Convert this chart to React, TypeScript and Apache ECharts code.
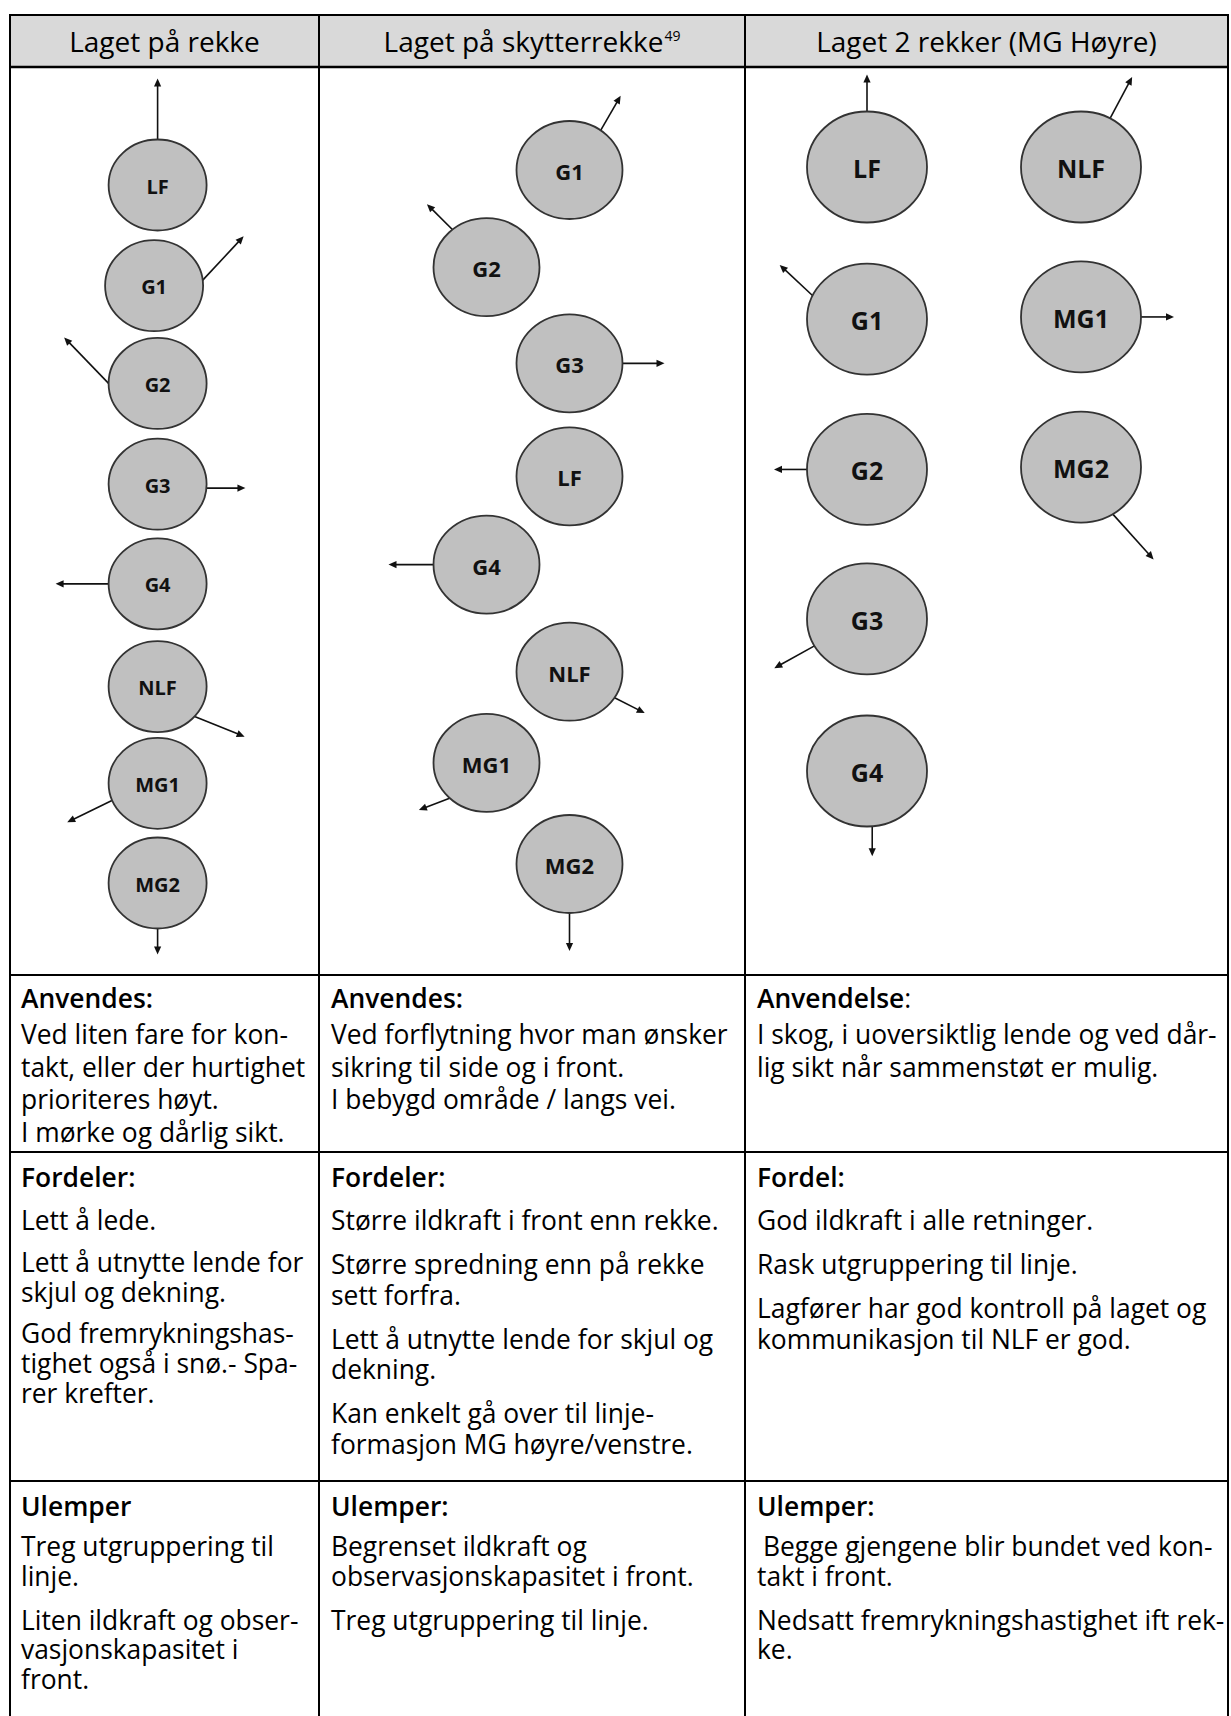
import React, { useEffect, useRef } from "react";
import * as echarts from "echarts";

// ---------- DATA ----------
const headers = ["Laget på rekke", "Laget på skytterrekke", "Laget 2 rekker (MG Høyre)"];
const headerNote = "49";

// Formation 1: Laget på rekke (lane, depth slot, arrow attach angle on circle, arrow direction, arrow length)
const f1Names = ["LF", "G1", "G2", "G3", "G4", "NLF", "MG1", "MG2"];
const f1Lane = [0, -0.035, 0, 0, 0, 0, 0, 0];
const f1Depth = [0, 1.01, 1.99, 3, 4, 5.03, 6, 7];
const f1ArrowFrom = [90, 7, 180, -5, 180, -41, 202, 270];
const f1ArrowDir = [90, 47, 134, 0, 180, -22, 206, 270];
const f1ArrowLen = [61, 60, 64, 39, 53, 54, 50, 26];

// Formation 2: Laget på skytterrekke
const f2Names = ["G1", "G2", "G3", "LF", "G4", "NLF", "MG1", "MG2"];
const f2Lane = [1, 0, 1, 1, 0, 1, 0, 1];
const f2Depth = [0, 0.98, 1.95, 3.09, 3.98, 5.06, 5.98, 7];
const f2ArrowFrom = [54, 130, 0, 0, 180, -32, 226, 270];
const f2ArrowDir = [60, 135, 0, 0, 180, -27, 201, 270];
const f2ArrowLen = [40, 36, 42, 0, 45, 34, 33, 38];

// Formation 3: Laget 2 rekker (MG Høyre)
const f3Names = ["LF", "NLF", "G1", "MG1", "G2", "MG2", "G3", "G4"];
const f3Lane = [0, 1, 0, 1, 0, 1, 0, 0];
const f3Depth = [0, 0, 1.007, 0.993, 2.003, 1.987, 2.993, 4];
const f3ArrowFrom = [90, 61, 155, 0, 180, -58, 209, 275];
const f3ArrowDir = [90, 62, 137, 0, 180, -48, 209, 270];
const f3ArrowLen = [37, 47, 45, 33, 33, 61, 46, 30];

const usageHead = ["Anvendes:", "Anvendes:", "Anvendelse"];
const usageText = [
  ["Ved liten fare for kon-", "takt, eller der hurtighet", "prioriteres høyt.", "I mørke og dårlig sikt."],
  ["Ved forflytning hvor man ønsker", "sikring til side og i front.", "I bebygd område / langs vei."],
  ["I skog, i uoversiktlig lende og ved dår-", "lig sikt når sammenstøt er mulig."],
];
const prosHead = ["Fordeler:", "Fordeler:", "Fordel:"];
const prosText = [
  [["Lett å lede."], ["Lett å utnytte lende for", "skjul og dekning."], ["God fremrykningshas-", "tighet også i snø.- Spa-", "rer krefter."]],
  [
    ["Større ildkraft i front enn rekke."],
    ["Større spredning enn på rekke", "sett forfra."],
    ["Lett å utnytte lende for skjul og", "dekning."],
    ["Kan enkelt gå over til linje-", "formasjon MG høyre/venstre."],
  ],
  [["God ildkraft i alle retninger."], ["Rask utgruppering til linje."], ["Lagfører har god kontroll på laget og", "kommunikasjon til NLF er god."]],
];
const consHead = ["Ulemper", "Ulemper:", "Ulemper:"];
const consText = [
  [["Treg utgruppering til", "linje."], ["Liten ildkraft og obser-", "vasjonskapasitet i", "front."]],
  [["Begrenset ildkraft og", "observasjonskapasitet i front."], ["Treg utgruppering til linje."]],
  [["Begge gjengene blir bundet ved kon-", "takt i front."], ["Nedsatt fremrykningshastighet ift rek-", "ke."]],
];

// ---------- LAYOUT ----------
const FONT = '"Open Sans", "Noto Sans", sans-serif';
const TABLE_L = 10;
const TABLE_R = 1228;
const COL_X = [TABLE_L, 319, 745, TABLE_R];
const ROW_Y = { top: 15, head: 67, diag: 975, usage: 1152, pros: 1481, bottom: 1716 };
const TEXT_X = [21, 331, 757];
const BODY = 26.4;
const HEAD = 28;

const formations = [
  { names: f1Names, lane: f1Lane, depth: f1Depth, from: f1ArrowFrom, dir: f1ArrowDir, len: f1ArrowLen,
    grid: { left: 157.6, top: 185, width: 100, height: 698 }, yMax: 7, r: [49, 45.5], fs: 20 },
  { names: f2Names, lane: f2Lane, depth: f2Depth, from: f2ArrowFrom, dir: f2ArrowDir, len: f2ArrowLen,
    grid: { left: 486.5, top: 170, width: 83, height: 694 }, yMax: 7, r: [53, 49], fs: 22 },
  { names: f3Names, lane: f3Lane, depth: f3Depth, from: f3ArrowFrom, dir: f3ArrowDir, len: f3ArrowLen,
    grid: { left: 867, top: 167, width: 214, height: 604 }, yMax: 4, r: [60, 55.5], fs: 25 },
];

// vertical rhythm per row: title offset, first-line step, per-column line step, per-column paragraph step
const RHYTHM: Record<string, { title: number; first: number; line: number[]; para: number[] }> = {
  usage: { title: 33, first: 36, line: [32.5, 32.5, 32.5], para: [32.5, 32.5, 32.5] },
  pros: { title: 35, first: 43, line: [30, 30.5, 31], para: [41.5, 44, 44] },
  cons: { title: 35, first: 40, line: [29.5, 29.5, 29.5], para: [44, 44, 44] },
};

function textEl(text: string, x: number, baseline: number, size: number, weight: string | number) {
  return {
    type: "text",
    silent: true,
    style: {
      text,
      x,
      y: baseline - size * 0.36,
      fontSize: size,
      fontWeight: weight,
      fontFamily: FONT,
      fill: "#000",
      textAlign: "left",
      textVerticalAlign: "middle",
      align: "left",
      verticalAlign: "middle",
    },
  };
}

function lineEl(x1: number, y1: number, x2: number, y2: number, w = 2) {
  return { type: "line", silent: true, shape: { x1, y1, x2, y2 }, style: { stroke: "#000", lineWidth: w } };
}

function buildGraphic() {
  const els: any[] = [];
  els.push({
    type: "rect",
    silent: true,
    shape: { x: TABLE_L, y: ROW_Y.top, width: TABLE_R - TABLE_L, height: ROW_Y.head - ROW_Y.top },
    style: { fill: "#d9d9d9" },
  });
  // header texts
  headers.forEach((h, i) => {
    const cx = (COL_X[i] + COL_X[i + 1]) / 2;
    const cy = (ROW_Y.top + ROW_Y.head) / 2;
    const rich = i === 1;
    els.push({
      type: "text",
      silent: true,
      style: {
        text: rich ? `{t|${h}}{s|${headerNote}}` : h,
        x: cx,
        y: cy,
        fontSize: HEAD,
        fontFamily: FONT,
        fill: "#000",
        textAlign: "center",
        textVerticalAlign: "middle",
        align: "center",
        verticalAlign: "middle",
        rich: rich
          ? {
              t: { fontSize: HEAD, fontFamily: FONT, fill: "#000", lineHeight: 32 },
              s: { fontSize: 14, fontFamily: FONT, fill: "#000", lineHeight: 32, verticalAlign: "top", padding: [3, 0, 0, 1] },
            }
          : undefined,
      },
    });
  });
  // usage row
  const ur = RHYTHM.usage;
  for (let c = 0; c < 3; c++) {
    let b = ROW_Y.diag + ur.title;
    if (c === 2) {
      els.push({
        type: "text",
        silent: true,
        style: {
          text: `{b|${usageHead[c]}}{n|:}`,
          x: TEXT_X[c],
          y: b - BODY * 0.36,
          fontSize: BODY,
          fontFamily: FONT,
          fill: "#000",
          textAlign: "left",
          textVerticalAlign: "middle",
          align: "left",
          verticalAlign: "middle",
          rich: {
            b: { fontSize: BODY, fontFamily: FONT, fontWeight: 600, fill: "#000" },
            n: { fontSize: BODY, fontFamily: FONT, fontWeight: 400, fill: "#000" },
          },
        },
      });
    } else {
      els.push(textEl(usageHead[c], TEXT_X[c], b, BODY, 600));
    }
    usageText[c].forEach((ln, li) => {
      b += li === 0 ? ur.first : ur.line[c];
      els.push(textEl(ln, TEXT_X[c], b, BODY, 400));
    });
  }
  // pros / cons rows
  const blocks: [string[], string[][][], number, string][] = [
    [prosHead, prosText, ROW_Y.usage, "pros"],
    [consHead, consText, ROW_Y.pros, "cons"],
  ];
  blocks.forEach(([heads, paras, top, key]) => {
    const rh = RHYTHM[key];
    for (let c = 0; c < 3; c++) {
      let b = top + rh.title;
      els.push(textEl(heads[c], TEXT_X[c], b, BODY, 600));
      paras[c].forEach((p, pi) => {
        p.forEach((ln, li) => {
          b += li > 0 ? rh.line[c] : pi === 0 ? rh.first : rh.para[c];
          const indent = key === "cons" && c === 2 && pi === 0 && li === 0 ? 6 : 0;
          els.push(textEl(ln, TEXT_X[c] + indent, b, BODY, 400));
        });
      });
    }
  });
  // grid lines
  [ROW_Y.top, ROW_Y.diag, ROW_Y.usage, ROW_Y.pros].forEach((y) => els.push(lineEl(TABLE_L - 1, y, TABLE_R + 1, y, 2)));
  els.push(lineEl(TABLE_L - 1, ROW_Y.head, TABLE_R + 1, ROW_Y.head, 2.6));
  COL_X.forEach((x) => els.push(lineEl(x, ROW_Y.top - 1, x, ROW_Y.bottom, 2)));
  return els;
}

function makeRender(f: any) {
  return (params: any, api: any) => {
    const i = params.dataIndex;
    const c = api.coord([api.value(0), api.value(1)]);
    const [rx, ry] = f.r;
    const children: any[] = [];
    const len = f.len[i];
    if (len > 0) {
      const t = (f.from[i] * Math.PI) / 180;
      const p = (f.dir[i] * Math.PI) / 180;
      const sx = c[0] + rx * Math.cos(t);
      const sy = c[1] - ry * Math.sin(t);
      const ux = Math.cos(p);
      const uy = -Math.sin(p);
      const ex = sx + len * ux;
      const ey = sy + len * uy;
      const hl = 8;
      const hw = 3.6;
      const bx = ex - hl * ux;
      const by = ey - hl * uy;
      children.push({
        type: "line",
        shape: { x1: sx - ux * 2, y1: sy - uy * 2, x2: bx + ux, y2: by + uy },
        style: { stroke: "#111", lineWidth: 1.6 },
      });
      children.push({
        type: "polygon",
        shape: { points: [[ex, ey], [bx - hw * uy, by + hw * ux], [bx + hw * uy, by - hw * ux]] },
        style: { fill: "#111" },
      });
    }
    children.push({
      type: "ellipse",
      shape: { cx: c[0], cy: c[1], rx, ry },
      style: { fill: "#c0c0c0", stroke: "#333", lineWidth: 1.8 },
    });
    children.push({
      type: "text",
      style: {
        text: f.names[i],
        x: c[0],
        y: c[1] + 1,
        fontSize: f.fs,
        fontWeight: "bold",
        fontFamily: FONT,
        fill: "#111",
        align: "center",
        verticalAlign: "middle",
        textAlign: "center",
        textVerticalAlign: "middle",
      },
    });
    return { type: "group", children };
  };
}

export default function App() {
  const ref = useRef<HTMLDivElement>(null);
  useEffect(() => {
    if (!ref.current) return;
    const chart = echarts.init(ref.current, undefined, { renderer: "svg" });
    const option: any = {
      animation: false,
      backgroundColor: "#fff",
      grid: formations.map((f) => ({ ...f.grid, containLabel: false })),
      xAxis: formations.map((f, k) => ({ type: "value", gridIndex: k, min: 0, max: 1, show: false })),
      yAxis: formations.map((f, k) => ({ type: "value", gridIndex: k, min: 0, max: f.yMax, inverse: true, show: false })),
      series: formations.map((f, k) => ({
        type: "custom",
        coordinateSystem: "cartesian2d",
        xAxisIndex: k,
        yAxisIndex: k,
        clip: false,
        silent: true,
        encode: { x: 0, y: 1 },
        data: f.lane.map((x: number, i: number) => [x, f.depth[i]]),
        renderItem: makeRender(f),
      })),
      graphic: { elements: buildGraphic() },
    };
    chart.setOption(option);
    return () => chart.dispose();
  }, []);
  return (
    <div
      ref={ref}
      style={{ position: "absolute", left: 0, top: 0, width: 1231, height: 1716, background: "#fff" }}
    />
  );
}
